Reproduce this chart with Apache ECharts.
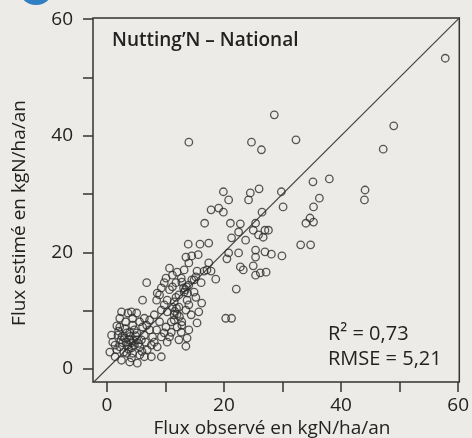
<!DOCTYPE html>
<html>
<head>
<meta charset="utf-8">
<script src="https://cdn.jsdelivr.net/npm/echarts@6/dist/echarts.min.js"></script>
<style>
html,body{margin:0;padding:0;background:#ecebe7;}
#c{width:472px;height:438px;}
</style>
</head>
<body>
<div id="c"></div>
<script>
// Observed flux (x) and estimated flux (y), kgN/ha/an
const observed = [
57.8,49.0,47.2,44.1,44.0,32.3,28.6,14.0,24.7,26.4,35.2,38.0,36.3,35.3,34.7,34.0,35.3,33.1,34.8,29.8,
30.1,29.9,28.1,27.0,25.4,25.4,25.0,25.4,26.2,27.2,22.8,23.3,22.1,20.8,20.5,20.3,21.3,22.5,27.6,26.0,
24.5,24.2,26.5,19.9,20.8,19.1,17.8,19.9,16.7,21.1,22.8,22.5,21.3,23.7,25.4,25.0,25.9,27.0,26.7,13.9,
15.9,17.4,13.5,14.5,15.6,14.0,17.4,17.1,15.4,16.6,17.8,18.6,16.1,14.9,16.2,15.7,15.4,14.4,13.5,13.2,
13.7,12.8,13.5,13.7,12.8,14.0,10.7,12.0,10.1,6.8,6.1,9.3,11.8,14.5,11.5,11.2,10.3,8.5,9.3,10.1,
9.3,10.7,9.3,7.6,6.4,5.2,3.9,2.5,1.4,1.0,2.2,2.2,2.2,3.6,5.1,4.4,3.4,3.9,5.1,2.7,
6.1,7.3,6.4,5.6,4.4,7.8,8.5,7.6,8.6,3.4,1.7,4.2,13.4,14.0,12.7,12.0,11.0,9.8,10.3,10.7,
8.6,9.8,11.2,11.2,12.8,11.8,12.3,15.2,12.7,15.2,2.5,4.2,3.0,3.6,4.7,3.9,5.1,5.9,1.9,1.4,
2.9,5.6,6.9,6.6,7.3,5.6,6.4,8.1,9.0,4.4,3.2,1.7,0.8,11.5,12.0,11.0,10.3,9.8,9.0,11.5,
12.3,14.0,13.2,14.9,4.7,2.4,0.5,4.2,6.8,8.1,12.3,
3.3,4.0,4.5,3.7,4.9,3.1,2.6,5.4,4.2,11.6,11.9,12.4,13.1,13.6,13.8,2.0,6.0
];
const estimated = [
53.3,41.7,37.7,30.7,29.0,39.3,43.6,38.9,38.9,37.6,32.1,32.6,29.3,27.8,25.9,25.0,25.2,21.3,21.3,30.4,
27.8,19.4,19.7,20.1,20.4,19.2,17.7,16.1,16.5,16.6,17.5,17.0,13.7,19.9,18.9,8.7,8.7,19.9,23.8,30.9,
30.2,29.0,26.9,30.4,29.0,27.6,27.3,26.9,25.0,25.0,24.9,23.5,22.5,22.1,25.0,23.8,23.0,23.8,22.6,21.4,
21.4,21.6,19.2,19.4,19.6,18.2,18.2,17.0,16.8,16.8,16.8,15.4,14.8,15.3,11.3,9.8,7.9,9.3,10.1,13.2,
11.8,8.1,3.9,5.3,7.5,6.7,17.3,16.6,15.6,14.8,11.8,13.9,14.8,15.3,9.3,10.6,11.8,11.8,10.1,7.2,
5.5,5.5,2.1,2.1,2.1,1.0,1.2,1.5,2.1,4.6,3.8,7.2,8.7,9.6,9.6,7.5,6.2,5.0,5.0,4.5,
7.2,8.4,5.8,3.8,2.7,5.5,6.7,4.1,3.8,2.7,3.3,3.6,13.6,11.0,6.3,7.2,6.3,6.2,4.6,13.6,
13.0,14.8,16.1,14.1,14.9,12.3,10.6,12.3,15.6,15.8,9.8,9.8,5.3,4.1,4.1,6.3,6.2,5.0,5.8,4.1,
2.9,2.4,3.3,4.6,6.7,8.1,8.7,9.3,8.1,8.7,8.1,7.4,5.8,8.4,9.4,8.1,9.8,11.0,12.7,11.5,
12.7,14.4,17.0,13.2,6.7,5.0,2.9,1.9,7.5,4.6,5.0,
4.6,5.6,4.9,3.4,5.7,6.9,5.6,4.4,4.5,9.9,10.4,9.0,13.9,14.1,13.0,6.5,3.0
];
const xTickValues = [0,10,20,30,40,50,60];
const xLabelValues = [0,20,40,60];
const yTickValues = [0,10,20,30,40,50,60];
const yLabelValues = [0,20,40,60];
const identityLine = [-2.4, 60.3];
const panelTitle = "Nutting\u2019N \u2013 National";
const statsText = ["R\u00b2 = 0,73", "RMSE = 5,21"];
const xName = "Flux observ\u00e9 en kgN/ha/an";
const yName = "Flux estim\u00e9 en kgN/ha/an";

const points = observed.map((v, i) => [v, estimated[i]]);
const FONT = '"Open Sans", sans-serif';
const TXT = '#222';

const chart = echarts.init(document.getElementById('c'), null, {renderer: 'canvas'});
chart.setOption({
  backgroundColor: '#ecebe7',
  animation: false,
  grid: {left: 93, right: 9, top: 18, bottom: 56, show: true, borderColor: '#333', borderWidth: 1.5, backgroundColor: 'transparent'},
  xAxis: {
    type: 'value', min: -2.37, max: 60.2,
    axisLine: {show: false, onZero: false},
    splitLine: {show: false},
    axisTick: {show: true, inside: false, length: 10, lineStyle: {color: '#333', width: 1.5}, customValues: xTickValues},
    axisLabel: {fontFamily: FONT, fontSize: 19, color: TXT, margin: 14, customValues: xLabelValues}
  },
  yAxis: {
    type: 'value', min: -2.23, max: 60.2,
    axisLine: {show: false, onZero: false},
    splitLine: {show: false},
    axisTick: {show: true, inside: false, length: 10, lineStyle: {color: '#333', width: 1.5}, customValues: yTickValues},
    axisLabel: {fontFamily: FONT, fontSize: 19, color: TXT, margin: 20, customValues: yLabelValues}
  },
  series: [
    {
      type: 'line', data: [[identityLine[0], identityLine[0]], [identityLine[1], identityLine[1]]],
      symbol: 'none', lineStyle: {color: '#444', width: 1.2}, silent: true, z: 1
    },
    {
      type: 'scatter', data: points, symbol: 'circle', symbolSize: 7.5,
      itemStyle: {color: 'rgba(0,0,0,0)', borderColor: '#2e2e2e', borderWidth: 1.3}, z: 2
    }
  ],
  graphic: [
    {type: 'circle', shape: {cx: 36, cy: -13, r: 18}, style: {fill: '#2f7fc2'}},
    {type: 'text', x: 112, y: 41, style: {text: panelTitle, font: '600 19px ' + FONT, fill: TXT, textVerticalAlign: 'middle'}},
    {type: 'text', x: 328, y: 334, style: {text: statsText[0], font: '20px ' + FONT, fill: TXT, textVerticalAlign: 'middle'}},
    {type: 'text', x: 328, y: 359, style: {text: statsText[1], font: '20px ' + FONT, fill: TXT, textVerticalAlign: 'middle'}},
    {type: 'text', x: 272, y: 429, style: {text: xName, font: '19px ' + FONT, fill: TXT, textAlign: 'center', textVerticalAlign: 'middle'}},
    {type: 'text', x: 20, y: 213, rotation: Math.PI / 2, style: {text: yName, font: '19px ' + FONT, fill: TXT, textAlign: 'center', textVerticalAlign: 'middle'}}
  ]
});
</script>
</body>
</html>
